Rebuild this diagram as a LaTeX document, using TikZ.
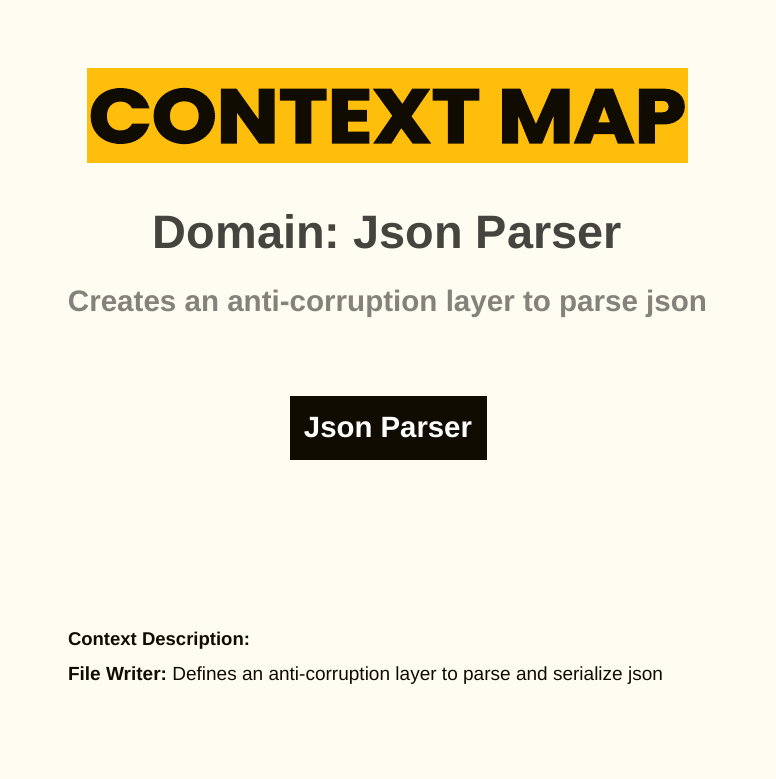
\documentclass[tikz,border=0pt]{standalone}
\usepackage{fontspec}
\setmainfont{Liberation Sans}
\newfontfamily\titlefont[FakeBold=2.2]{Poppins}
\usepackage{graphicx}
\definecolor{bgc}{HTML}{FFFCF1}
\definecolor{yel}{HTML}{FFBE0B}
\definecolor{ink}{HTML}{100C02}
\definecolor{domc}{HTML}{45443E}
\definecolor{subc}{HTML}{84827A}
\frenchspacing
\begin{document}
\begin{tikzpicture}[x=1pt,y=-1pt,
  txt/.style={inner sep=0pt, outer sep=0pt},
  ctxbox/.style={fill=ink, draw=none, minimum width=197pt, minimum height=64pt, inner sep=0pt, text=white}]
\fill[bgc] (0,0) rectangle (776,779);
\useasboundingbox (0,0) rectangle (776,779);
% title banner
\node[fill=yel, minimum width=601pt, minimum height=95pt, inner sep=0pt] (banner) at (387.5,115) {};
\node[txt, text=ink] (title) at (387.5,116) {\resizebox{597pt}{54pt}{\titlefont\bfseries CONTEXT MAP}};
% domain
\node[txt, anchor=base, text=domc] (domain) at (387.5,248) {\resizebox{469pt}{!}{\bfseries Domain: Json Parser}};
\node[txt, anchor=base, text=subc] (sub) at (387.5,311) {\resizebox{639pt}{!}{\bfseries Creates an anti-corruption layer to parse json}};
% context box
\node[ctxbox] (jp) at (388,427.5) {\resizebox{168pt}{!}{\bfseries Json Parser}};
% description
\node[txt, anchor=base west, text=ink] (cdesc) at (68,645) {\resizebox{182pt}{!}{\bfseries Context Description:}};
\node[txt, anchor=base west, text=ink] (fw) at (68,680) {\resizebox{595pt}{!}{\textbf{File Writer:} Defines an anti-corruption layer to parse and serialize json}};
\end{tikzpicture}
\end{document}
